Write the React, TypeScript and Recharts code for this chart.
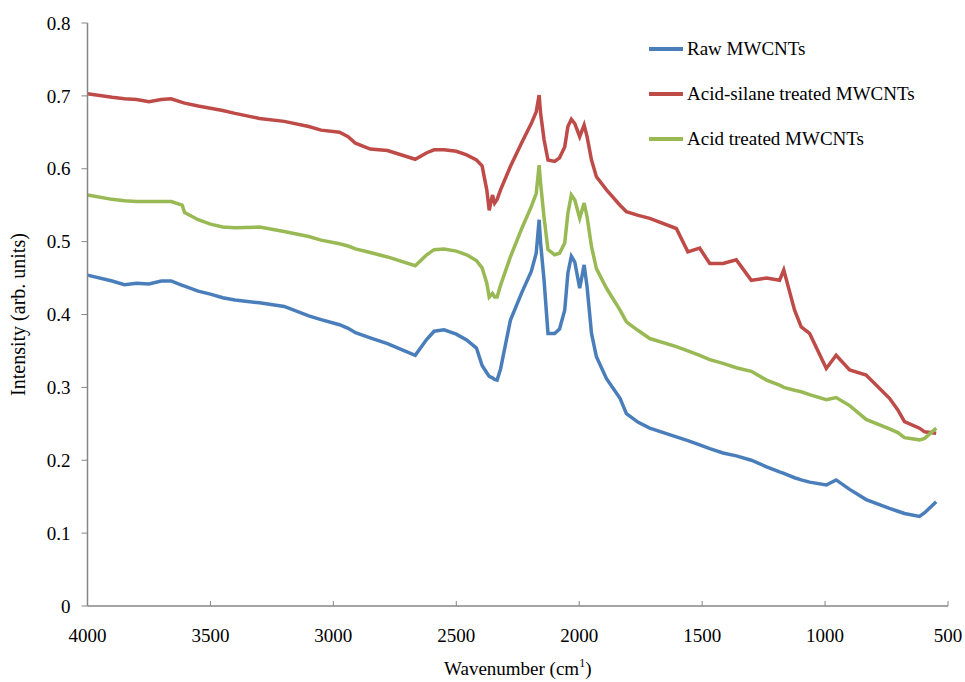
import React from "react";
import { LineChart, Line, XAxis, YAxis, Label } from "recharts";

// wavenumber grid (cm-1)
const wavenumbers = [
  4000, 3900, 3850, 3800, 3750, 3700, 3660, 3615, 3605, 3550, 3500, 3450, 3400,
  3300, 3200, 3100, 3050, 2975, 2940, 2910, 2850, 2780, 2667, 2620, 2590, 2550,
  2500, 2458, 2418, 2395, 2376, 2366, 2353, 2344, 2334, 2320, 2280, 2235, 2195,
  2175, 2163, 2157, 2143, 2127, 2100, 2080, 2059, 2046, 2032, 2018, 1998, 1980,
  1968, 1950, 1930, 1889, 1834, 1808, 1760, 1713, 1605, 1558, 1510, 1469, 1415,
  1361, 1300, 1238, 1185, 1168, 1124, 1097, 1063, 995, 955, 900, 833, 738, 704,
  677, 616, 595, 548,
];

const rawMwcnts = [
  0.454, 0.446, 0.441, 0.443, 0.442, 0.446, 0.446, 0.44, 0.439, 0.432, 0.428,
  0.423, 0.42, 0.416, 0.411, 0.398, 0.393, 0.386, 0.381, 0.375, 0.368, 0.36,
  0.344, 0.366, 0.377, 0.379, 0.373, 0.365, 0.354, 0.33, 0.32, 0.315, 0.313,
  0.311, 0.31, 0.325, 0.392, 0.429, 0.459, 0.484, 0.53, 0.498, 0.447, 0.374,
  0.374, 0.38, 0.406, 0.457, 0.48, 0.472, 0.436, 0.468, 0.438, 0.374, 0.342,
  0.312, 0.285, 0.264, 0.252, 0.244, 0.232, 0.227, 0.221, 0.216, 0.21, 0.206,
  0.2, 0.191, 0.184, 0.182, 0.176, 0.173, 0.17, 0.166, 0.173, 0.16, 0.146,
  0.134, 0.13, 0.127, 0.123, 0.128, 0.143,
];

const acidSilane = [
  0.703, 0.698, 0.696, 0.695, 0.692, 0.695, 0.696, 0.691, 0.69, 0.686, 0.683,
  0.68, 0.676, 0.669, 0.665, 0.658, 0.653, 0.65, 0.644, 0.635, 0.627, 0.625,
  0.613, 0.622, 0.626, 0.626, 0.624, 0.619, 0.612, 0.604, 0.571, 0.543, 0.564,
  0.553, 0.558, 0.571, 0.603, 0.635, 0.662, 0.678, 0.701, 0.676, 0.64, 0.612,
  0.61, 0.615, 0.63, 0.658, 0.668, 0.662, 0.644, 0.66, 0.644, 0.612, 0.589,
  0.571, 0.55, 0.541, 0.536, 0.532, 0.518, 0.486, 0.491, 0.47, 0.47, 0.475,
  0.447, 0.45, 0.447, 0.461, 0.406, 0.383, 0.374, 0.326, 0.344, 0.324, 0.317,
  0.285, 0.269, 0.253, 0.244, 0.239, 0.237,
];

const acidTreated = [
  0.564, 0.558, 0.556, 0.555, 0.555, 0.555, 0.555, 0.55, 0.54, 0.53, 0.524,
  0.52, 0.519, 0.52, 0.514, 0.507, 0.502, 0.497, 0.494, 0.49, 0.485, 0.479,
  0.467, 0.482, 0.489, 0.49, 0.487, 0.482, 0.474, 0.464, 0.443, 0.424, 0.429,
  0.424, 0.424, 0.44, 0.479, 0.517, 0.548, 0.566, 0.605, 0.58, 0.533, 0.489,
  0.482, 0.484, 0.498, 0.539, 0.564, 0.557, 0.532, 0.553, 0.534, 0.493, 0.463,
  0.436, 0.406, 0.39, 0.378, 0.367, 0.356, 0.35, 0.344, 0.338, 0.333, 0.327,
  0.322, 0.31, 0.303, 0.3, 0.296, 0.294, 0.29, 0.283, 0.286, 0.275, 0.256,
  0.243, 0.238, 0.231, 0.228, 0.23, 0.244,
];

const xTicks = [4000, 3500, 3000, 2500, 2000, 1500, 1000, 500];
const yTicks = [0, 0.1, 0.2, 0.3, 0.4, 0.5, 0.6, 0.7, 0.8];

const series = [
  { key: "raw", name: "Raw MWCNTs", color: "#4a7ebb", values: rawMwcnts },
  { key: "silane", name: "Acid-silane treated MWCNTs", color: "#be4b48", values: acidSilane },
  { key: "acid", name: "Acid treated MWCNTs", color: "#98b954", values: acidTreated },
];

const data = wavenumbers.map((wn, i) => {
  const row: Record<string, number> = { wn };
  series.forEach((s) => (row[s.key] = s.values[i]));
  return row;
});

const FONT = "'Liberation Serif', 'Times New Roman', serif";
const AXIS = "#868686";

const XTick = (props: any) => {
  const { x, y, payload } = props;
  return (
    <g>
      <line x1={x} x2={x} y1={y} y2={y - 5} stroke={AXIS} strokeWidth={1} />
      <text x={x} y={y + 36} textAnchor="middle" fill="#000" fontSize={19} fontFamily={FONT}>
        {payload.value}
      </text>
    </g>
  );
};

const XTitle = (props: any) => {
  const vb = props.viewBox || {};
  const cx = vb.x + vb.width / 2;
  return (
    <text x={cx} y={675} textAnchor="middle" fill="#000" fontSize={19} fontFamily={FONT}>
      <tspan>Wavenumber (cm</tspan>
      <tspan dy={-8} fontSize={12}>1</tspan>
      <tspan dy={8}>)</tspan>
    </text>
  );
};

const YTitle = (props: any) => {
  const vb = props.viewBox || {};
  const cy = vb.y + vb.height / 2;
  const cx = 18;
  return (
    <text
      x={cx}
      y={cy}
      transform={`rotate(-90 ${cx} ${cy})`}
      textAnchor="middle"
      dominantBaseline="central"
      fill="#000"
      fontSize={20}
      fontFamily={FONT}
    >
      Intensity (arb. units)
    </text>
  );
};

export default function App() {
  return (
    <div style={{ position: "relative", width: 965, height: 682, background: "#fff" }}>
      <style>{"body{margin:0}"}</style>
      <LineChart
        width={965}
        height={682}
        data={data}
        margin={{ top: 23, right: 17, bottom: 36, left: 27.5 }}
      >
        <XAxis
          dataKey="wn"
          type="number"
          domain={[500, 4000]}
          reversed
          ticks={xTicks}
          interval={0}
          height={40}
          tickSize={0}
          tickMargin={0}
          tick={<XTick />}
          axisLine={{ stroke: AXIS, strokeWidth: 1.5 }}
          tickLine={false}
        >
          <Label content={<XTitle />} />
        </XAxis>
        <YAxis
          type="number"
          domain={[0, 0.8]}
          ticks={yTicks}
          interval={0}
          width={60}
          tickSize={6}
          tickMargin={11}
          tickFormatter={(v: number) => (v === 0 ? "0" : v.toFixed(1))}
          tick={{ fill: "#000", fontSize: 19, fontFamily: FONT }}
          axisLine={{ stroke: AXIS, strokeWidth: 1.5 }}
          tickLine={{ stroke: AXIS }}
        >
          <Label content={<YTitle />} />
        </YAxis>
        {series.map((s) => (
          <Line
            key={s.key}
            dataKey={s.key}
            name={s.name}
            type="linear"
            stroke={s.color}
            strokeWidth={3.5}
            dot={false}
            isAnimationActive={false}
          />
        ))}
      </LineChart>
      <div style={{ position: "absolute", left: 649, top: 26, fontFamily: FONT, fontSize: 19 }}>
        {series.map((s) => (
          <div key={s.key} style={{ display: "flex", alignItems: "center", height: 45 }}>
            <span style={{ display: "inline-block", width: 34, height: 4, background: s.color, marginRight: 4 }} />
            <span style={{ color: "#000", whiteSpace: "nowrap" }}>{s.name}</span>
          </div>
        ))}
      </div>
    </div>
  );
}
